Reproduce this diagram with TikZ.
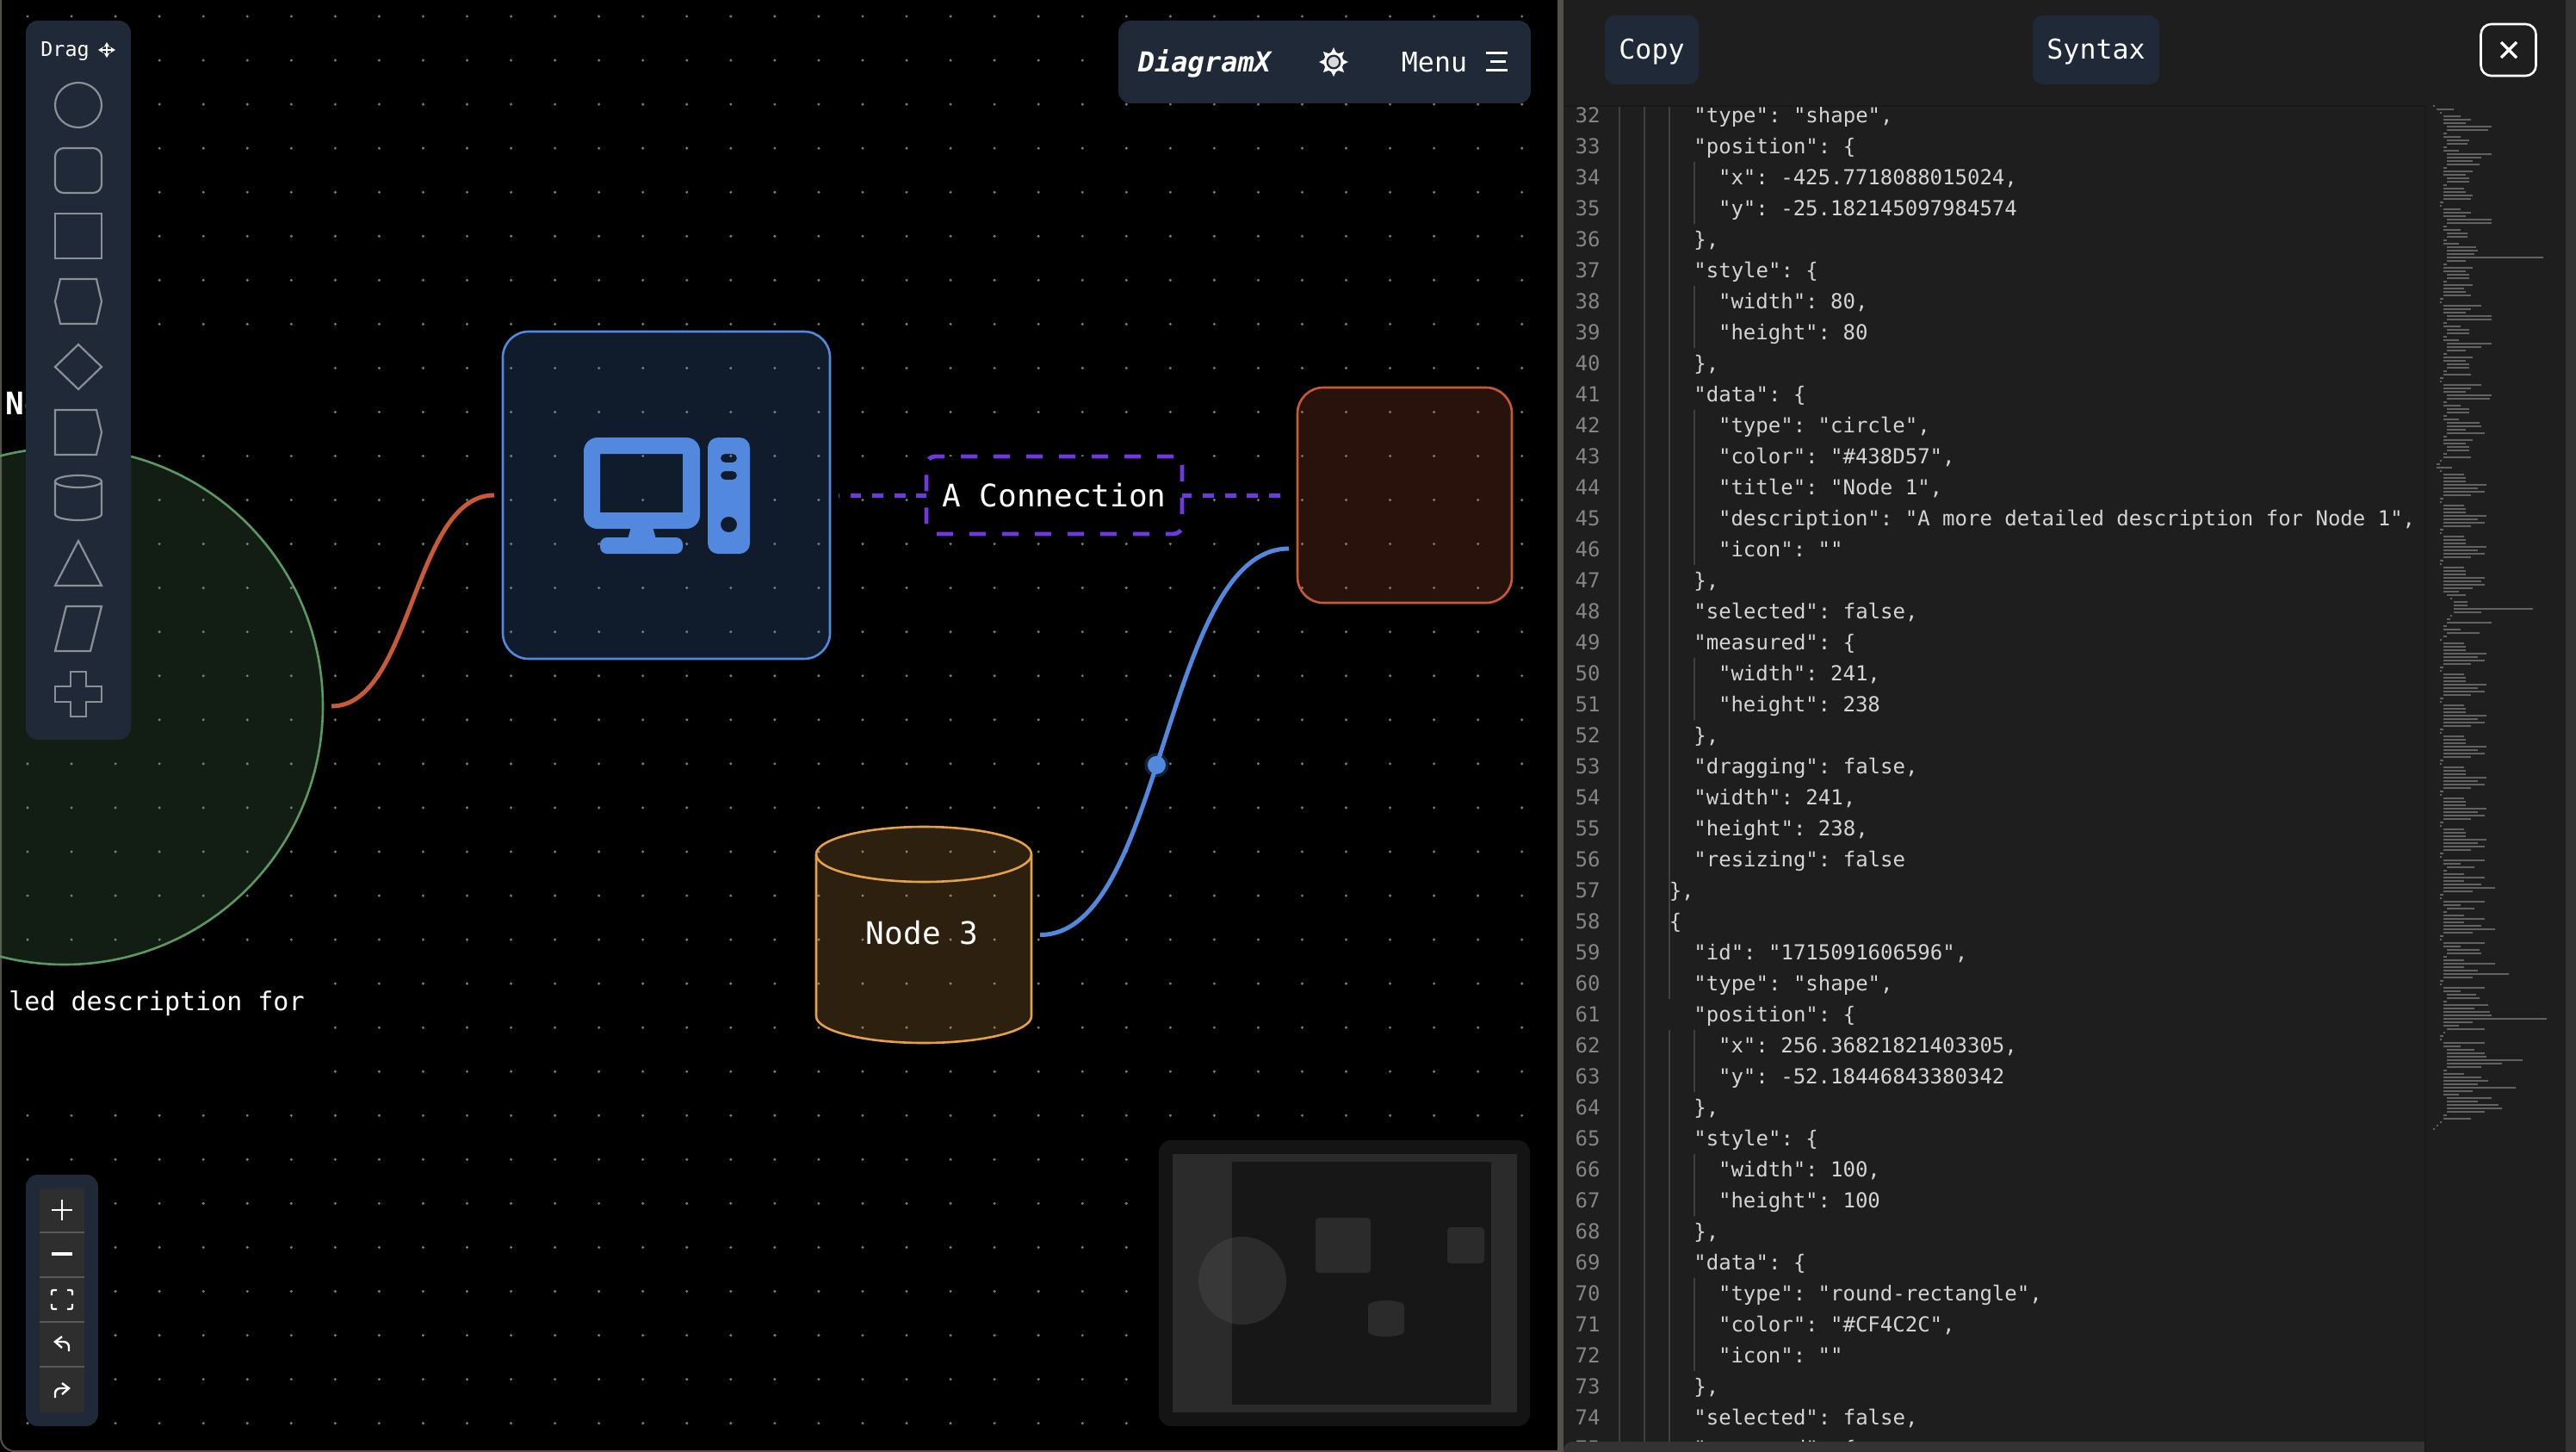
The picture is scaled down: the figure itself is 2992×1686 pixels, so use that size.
\documentclass[tikz,border=0pt]{standalone}
\usepackage{fontspec}
\setmonofont{DejaVu Sans Mono}
\renewcommand{\familydefault}{\ttdefault}
\usetikzlibrary{shapes.geometric,backgrounds,arrows.meta}
\definecolor{panelblue}{HTML}{1F2937}
\definecolor{iconblue}{HTML}{5289DE}
\definecolor{edgered}{HTML}{C85A3A}
\definecolor{nodegreen}{HTML}{5A9A62}
\definecolor{cylorange}{HTML}{E5A04A}
\definecolor{flowpurple}{HTML}{7039E0}
\definecolor{toolgray}{HTML}{8B8F96}
\definecolor{griddot}{HTML}{7A7A7A}
\definecolor{codebg}{HTML}{1E1E1E}
\definecolor{codetxt}{HTML}{D4D4D4}
\definecolor{numtxt}{HTML}{858585}
\definecolor{guidegray}{HTML}{404040}
\definecolor{barcolor}{HTML}{333333}
\definecolor{splitgray}{HTML}{555049}
\definecolor{minigray}{HTML}{626262}
\tikzset{
	shapebox/.style={draw=#1, fill=#1, fill opacity=.2, text opacity=1, line width=1.3pt, inner sep=0pt, outer sep=5pt, text=white, font=\fontsize{18pt}{22pt}\selectfont},
	panelbox/.style={fill=panelblue, rounded corners=7pt, inner sep=0pt},
	btnbox/.style={fill=panelblue, rounded corners=6pt, inner sep=0pt, text=white, font=\fontsize{15.8pt}{19pt}\selectfont},
	uitext/.style={text=white, inner sep=0pt, font=\fontsize{#1}{1.2em}\selectfont},
	toolicon/.style={draw=toolgray, line width=1.1pt},
	whiteline/.style={draw=white, line width=1.2pt},
	flowline/.style={line width=2.5pt},
	codetext/.style={anchor=base west, inner sep=0pt, text=codetxt, font=\fontsize{12pt}{14pt}\selectfont},
	numtext/.style={anchor=base east, inner sep=0pt, text=numtxt, font=\fontsize{12pt}{14pt}\selectfont},
	miniline/.style={draw=minigray, line width=.85pt}
}
\def\mininodeA{2/1,3/10,3/16,3/13,4/26,4/24,3/2,3/10,4/13,4/12,3/2,3/9,4/26,4/20,4/15,4/19,3/2,3/17,3/13,4/13,4/13,3/2,3/12,3/13,3/17,3/16,2/2}
\def\mininodeB{2/1,3/10,3/16,3/13,4/26,4/26,3/2,3/10,4/12,4/12,3/2,3/9,4/17,4/18,4/16,4/56,4/11,3/2,3/17,3/13,4/13,4/13,3/2,3/17,3/12,3/13,3/16,2/2}
\def\mininodeC{2/1,3/22,3/16,3/13,4/26,4/26,3/2,3/10,4/13,4/13,3/2,3/9,4/26,4/20,4/11,3/2,3/17,3/13,4/13,4/13,3/2,3/16,2/2}
\def\mininodeD{2/1,3/22,3/16,3/13,4/26,4/25,3/2,3/10,4/13,4/13,3/2,3/9,4/19,4/20,4/11,4/22,3/2,3/17,3/13,4/13,4/13,3/2,3/16,2/1}
\def\miniedge{2/1,3/12,3/13,3/13,3/25,3/20,3/24,3/16,2/2}
\def\miniedgeD{2/1,3/12,3/13,3/13,3/24,3/22,3/24,3/17,3/9,4/11,5/1,6/8,6/8,6/46,6/16,5/1,4/2,4/26,3/2,3/10,4/19,3/2}
\def\ministyA{2/1,3/24,3/10,4/16,3/2,3/12,3/24,3/12,3/22,3/30,3/17,2/2}
\def\ministyB{2/1,3/24,3/10,4/19,4/20,3/2,3/12,3/30,3/12,3/20,3/38,3/17,2/2}
\def\ministyC{2/1,3/24,3/10,4/17,4/19,3/2,3/26,3/18,3/27,3/28,3/60,3/17,3/9,4/22,3/1,2/2}
\def\ministyD{2/1,3/24,3/10,4/16,4/22,4/23,4/44,4/32,4/20,3/2,3/12,3/22,3/26,3/20,3/42,3/17,3/9,4/26,4/18,4/30,4/32,4/22,3/2,3/16,2/1,1/1,0/1}
\edef\minilist{0/1,1/10,\mininodeA,\mininodeB,\mininodeC,\mininodeD,1/2,1/9,\miniedge,\miniedge,\miniedge,\miniedgeD,\miniedge,\miniedge,\miniedge,\miniedge,\miniedge,\miniedge,\miniedge,\ministyA,\ministyA,\ministyB,\ministyC,\ministyD}
\begin{document}
\begin{tikzpicture}[x=.5pt,y=-.5pt,>={Stealth[length=3pt,width=3.5pt]}]
	\useasboundingbox (0,0) rectangle (2992,1686);
	\begin{scope}[on background layer]
		\fill [black] (0,0) rectangle (1809,1686);
		\foreach \i in {0,...,34}
		\foreach \j in {0,...,32}
		\fill [griddot] ({32+51.05*\i},{19+51.05*\j}) circle [radius=1.7];
		\fill [black] (0,398) rectangle (368,506) (0,1125) rectangle (368,1270);
	\end{scope}
	
	\draw [splitgray, line width=1pt, rounded corners=8pt] (1,0) -- (1,1685) -- (1809,1685);
	
	\node (circlenode) [shapebox=nodegreen, circle, minimum size=300pt] at (75,820) {};
	\node (compnode) [shapebox=iconblue, rounded corners=15pt, minimum width=190pt, minimum height=190pt] at (774,575) {};
	\node (rednode) [shapebox=edgered, rounded corners=15pt, minimum width=124.5pt, minimum height=125pt] at (1631.5,575) {};
	\node (cylnode) [inner sep=0pt, outer sep=5pt, minimum width=125pt, minimum height=125.5pt] at (1073,1085.5) {};
	\draw [draw=cylorange, fill=cylorange, fill opacity=.2, line width=1.3pt] (948,992) arc [start angle=180,end angle=360,x radius=125,y radius=32] -- (1198,1180) arc [start angle=0,end angle=180,x radius=125,y radius=31] -- cycle;
	\draw [cylorange, line width=1.3pt] (948,992) arc [start angle=180,end angle=0,x radius=125,y radius=32];
	\node (cyltext) [uitext=18pt] at (1071,1083) {Node 3};
	
	\draw [edgered, flowline] (circlenode.east) .. controls (479,820) and (479,575) .. (compnode.west);
	\draw [iconblue, flowline] (cylnode.east) .. controls (1352,1086) and (1352,637) .. ([yshift=-31pt]rednode.west) node (bluedot) [pos=.46, circle, fill=iconblue, inner sep=0pt, minimum size=10.5pt] {};
	\fill [iconblue, opacity=.25] (bluedot) circle [radius=14];
	\draw [flowpurple, flowline, dash pattern=on 6.4pt off 6.4pt, dash phase=6pt] (compnode.east) -- (rednode.west);
	\node (connlabel) [fill=black, draw=flowpurple, line width=2.4pt, dash pattern=on 9.5pt off 9.5pt, rounded corners=5pt, inner sep=0pt, minimum width=148.5pt, minimum height=45pt, text=white, font=\fontsize{18pt}{22pt}\selectfont] at (1224.5,575) {A Connection};
	
	\node (nodetitle) [uitext=18pt, font=\bfseries\fontsize{18pt}{22pt}\selectfont, anchor=west] at (6,469) {No};
	\node (nodedesc) [uitext=15pt, anchor=east] at (354,1165) {led description for};
	
	\fill [iconblue, even odd rule, rounded corners=8pt] (678,508) rectangle (813,614) [sharp corners] (697,527) rectangle (793,595);
	\fill [iconblue] (733,612) -- (758,612) -- (762,626) -- (729,626) -- cycle;
	\fill [iconblue, rounded corners=4pt] (697,624) rectangle (793,643);
	\fill [iconblue, even odd rule, rounded corners=6pt] (822,508) rectangle (871,643) [rounded corners=2.5pt] (837,527) rectangle (856,537) (837,547) rectangle (856,557) [rounded corners=4.5pt] (837,600) rectangle (856,618);
	
	\node (toolbar) [panelbox, minimum width=61pt, minimum height=417.5pt] at (91,441.5) {};
	\node (draglabel) [uitext=11.7pt, anchor=west] at (47,59) {Drag};
	\draw [white, line width=.7pt, <->] (114,58) -- (134,58);
	\draw [white, line width=.7pt, <->] (124,49) -- (124,67);
	\draw [toolicon] (91,122) ellipse [x radius=27,y radius=26];
	\draw [toolicon, rounded corners=5pt] (64,172) rectangle (118,224);
	\draw [toolicon] (64,248) rectangle (118,300);
	\draw [toolicon] (64,350) -- (70,324) -- (112,324) -- (118,350) -- (112,376) -- (70,376) -- cycle;
	\draw [toolicon] (64,426) -- (91,400) -- (118,426) -- (91,452) -- cycle;
	\draw [toolicon] (64,476) -- (112,476) -- (118,502) -- (112,528) -- (64,528) -- cycle;
	\draw [toolicon] (64,559) arc [start angle=180,end angle=0,x radius=27,y radius=7] arc [start angle=0,end angle=-180,x radius=27,y radius=7] -- (64,597) arc [start angle=180,end angle=0,x radius=27,y radius=7] -- (118,559);
	\draw [toolicon] (91,628) -- (118,680) -- (64,680) -- cycle;
	\draw [toolicon] (77,704) -- (118,704) -- (105,756) -- (64,756) -- cycle;
	\draw [toolicon] (82,780) -- (100,780) -- (100,797) -- (118,797) -- (118,815) -- (100,815) -- (100,832) -- (82,832) -- (82,815) -- (64,815) -- (64,797) -- (82,797) -- cycle;
	
	\node (zoombar) [panelbox, minimum width=42pt, minimum height=146pt] at (72,1510) {};
	\fill [black!82] (46,1380) rectangle (98,1640);
	\foreach \s in {1431,1483,1535,1587}
	\draw [white!35!black, line width=1pt] (46,\s) -- (98,\s);
	\draw [whiteline] (60,1405) -- (84,1405) (72,1393) -- (72,1417);
	\draw [whiteline, line width=1.8pt] (60,1456) -- (84,1456);
	\draw [whiteline, rounded corners=1pt] (60,1504) |- (66,1498) (78,1498) -| (84,1504) (84,1514) |- (78,1520) (66,1520) -| (60,1514);
	\draw [whiteline, rounded corners=3pt] (80,1569) |- (64,1558);
	\draw [whiteline] (72,1552) -- (64,1558) -- (72,1565);
	\draw [whiteline, rounded corners=3pt] (64,1623) |- (80,1612);
	\draw [whiteline] (72,1606) -- (80,1612) -- (72,1619);
	
	\node (menubar) [panelbox, minimum width=239.5pt, minimum height=48pt] at (1538.5,72) {};
	\node (logotext) [uitext=16pt, font=\bfseries\itshape\fontsize{16pt}{19pt}\selectfont] at (1399,74) {DiagramX};
	\foreach \s in {0,45,...,315}
	\fill [white] ([shift={(\s-22:10)}]1549,72) -- ([shift={(\s:17)}]1549,72) -- ([shift={(\s+22:10)}]1549,72) -- cycle;
	\fill [white] (1549,72) circle [radius=11.5];
	\fill [panelblue] (1549,72) circle [radius=8.5];
	\fill [white!85!black] (1549,72) circle [radius=6];
	\node (menutext) [uitext=15.8pt] at (1666,72) {Menu};
	\draw [white, line width=1.5pt] (1726,62) -- (1751,62) (1731,72) -- (1749,72) (1726,82) -- (1751,82);
	
	\node (minimappanel) [fill=black!92, rounded corners=7pt, inner sep=0pt, minimum width=215.5pt, minimum height=166pt] at (1561.5,1490) {};
	\fill [black!83] (1362,1340) rectangle (1762,1640);
	\fill [black!78] (1443,1487) circle [radius=51];
	\fill [black!91] (1431,1349) rectangle (1732,1631);
	\begin{scope}
		\clip (1431,1349) rectangle (1732,1631);
		\fill [black!83] (1443,1487) circle [radius=51];
	\end{scope}
	\fill [black!83, rounded corners=2pt] (1528,1414) rectangle (1592,1478);
	\fill [black!83, rounded corners=2pt] (1681,1425) rectangle (1724,1467);
	\fill [black!83] (1589,1516) arc [start angle=180,end angle=360,x radius=21,y radius=6] -- (1631,1546) arc [start angle=0,end angle=180,x radius=21,y radius=6] -- cycle;
	
	\fill [splitgray] (1809,0) rectangle (1816,1686);
	\fill [codebg] (1816,0) rectangle (2992,1686);
	\fill [barcolor] (2980,0) rectangle (2992,1686);
	\node (copybtn) [btnbox, minimum width=54.5pt, minimum height=40pt] at (1918.5,58) {};
	\node (copytext) [uitext=15.8pt] at (1918.5,60) {Copy};
	\node (syntaxbtn) [btnbox, minimum width=73.5pt, minimum height=40pt] at (2434.5,58) {};
	\node (syntaxtext) [uitext=15.8pt] at (2434.5,60) {Syntax};
	\node (closebtn) [draw=white, line width=1.3pt, rounded corners=6pt, inner sep=0pt, minimum width=32pt, minimum height=30pt] at (2913.5,58) {};
	\draw [white, line width=1.7pt] (2905,49) -- (2923,67) (2923,49) -- (2905,67);
	
	\begin{scope}
		\clip (1816,122) rectangle (2818,1674);
		\foreach \s in {1881,1910}
		\draw [guidegray, line width=.8pt] (\s,122) -- (\s,1674);
		\draw [guidegray, line width=.8pt] (1939,122) -- (1939,1160) (1939,1196) -- (1939,1674);
		\foreach \a/\b in {34/35,38/39,42/46,50/51,62/63,66/67,70/72}
		\draw [guidegray, line width=.8pt] (1968,{116+36*(\a-32)}) -- (1968,{152+36*(\b-32)});
		\foreach [count=\n from 32] \ind/\txt in {0/{"type": "shape",},0/{"position": \{},1/{"x": -425.7718088015024,},1/{"y": -25.182145097984574},0/{\},},0/{"style": \{},1/{"width": 80,},1/{"height": 80},0/{\},},0/{"data": \{},1/{"type": "circle",},1/{"color": "\#438D57",},1/{"title": "Node 1",},1/{"description": "A more detailed description for Node 1",},1/{"icon": ""},0/{\},},0/{"selected": false,},0/{"measured": \{},1/{"width": 241,},1/{"height": 238},0/{\},},0/{"dragging": false,},0/{"width": 241,},0/{"height": 238,},0/{"resizing": false},-1/{\},},-1/{\{},0/{"id": "1715091606596",},0/{"type": "shape",},0/{"position": \{},1/{"x": 256.36821821403305,},1/{"y": -52.18446843380342},0/{\},},0/{"style": \{},1/{"width": 100,},1/{"height": 100},0/{\},},0/{"data": \{},1/{"type": "round-rectangle",},1/{"color": "\#CF4C2C",},1/{"icon": ""},0/{\},},0/{"selected": false,},0/{"measured": \{}}{
			\node (num\n) [numtext] at (1859,{142+36*(\n-32)}) {\n};
			\node (code\n) [codetext] at ({1967+28.67*\ind},{142+36*(\n-32)}) {\txt};}
	\end{scope}
	
	\begin{scope}
		\clip (1816,1674) rectangle (2818,1686);
		\fill [barcolor, rounded corners=5pt] (1816,1674) rectangle (2830,1700);
	\end{scope}
	\draw [black!90, line width=1.2pt] (1816,123) -- (2818,123) (2817,123) -- (2817,1686);
	\foreach [count=\k] \l/\n in \minilist
	\draw [miniline] ({2826+4*\l},{119+4*\k}) -- ++ ({2*\n},0);
\end{tikzpicture}
\end{document}
